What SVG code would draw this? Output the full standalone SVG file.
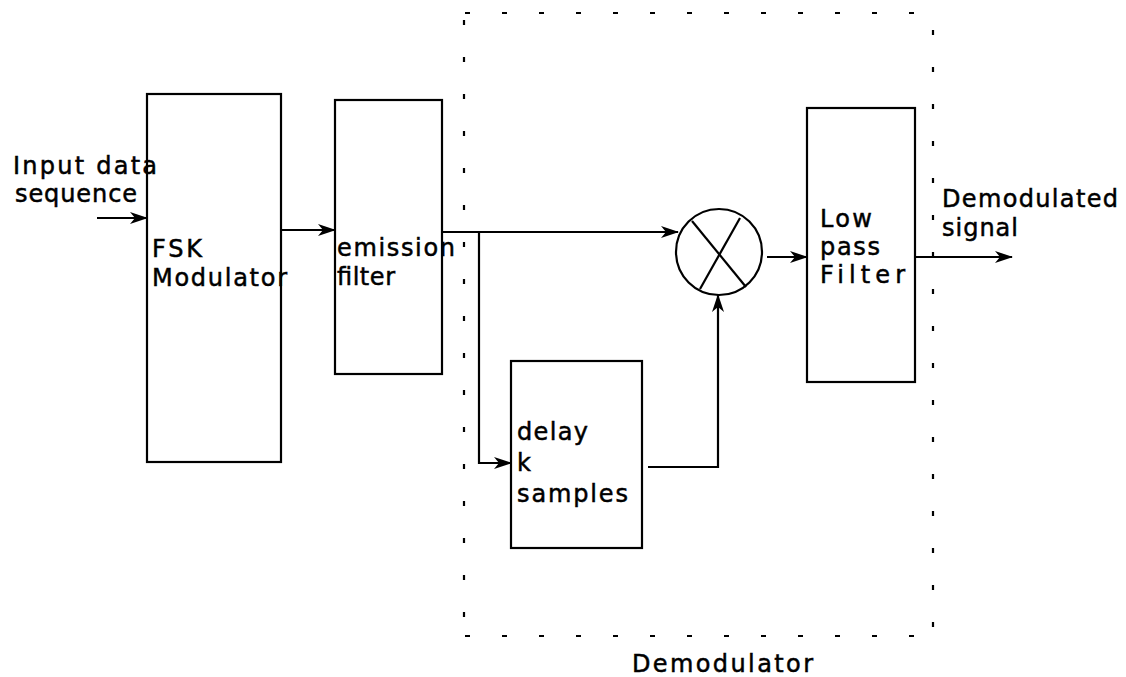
<svg xmlns="http://www.w3.org/2000/svg" width="1126" height="677" viewBox="0 0 1126 677">
<style>
.box{fill:none;stroke:#000;stroke-width:2.2}
.ln{fill:none;stroke:#000;stroke-width:2.2}
.dash{fill:none;stroke:#000;stroke-width:2.2;stroke-dasharray:5 32}
text{font-family:"DejaVu Sans","Liberation Sans",sans-serif;font-size:24px;fill:#000;stroke:#000;stroke-width:0.5}
</style>
<defs>
<marker id="ah" markerWidth="18" markerHeight="12" refX="17" refY="6" orient="auto" markerUnits="userSpaceOnUse">
<path d="M0,0 L18,6 L0,12 L5,6 Z" fill="#000"/>
</marker>
</defs>
<rect width="1126" height="677" fill="#fff"/>
<g id="demodulator-frame">
<line class="dash" x1="465" y1="13" x2="933" y2="13"/>
<line class="dash" x1="465" y1="636" x2="933" y2="636"/>
<line class="dash" x1="464" y1="20" x2="464" y2="636"/>
<line class="dash" x1="933" y1="30" x2="933" y2="636"/>
<text x="632" y="672" textLength="181" lengthAdjust="spacing">Demodulator</text>
</g>
<g id="input-label">
<text x="13" y="174" textLength="144" lengthAdjust="spacing">Input data</text>
<text x="15" y="202" textLength="122" lengthAdjust="spacing">sequence</text>
</g>
<g id="fsk">
<rect class="box" x="147" y="94" width="134" height="368"/>
<text x="152" y="257" textLength="50" lengthAdjust="spacing">FSK</text>
<text x="152" y="286" textLength="135" lengthAdjust="spacing">Modulator</text>
</g>
<g id="emission">
<rect class="box" x="335" y="100" width="107" height="274"/>
<text x="337" y="256" textLength="118" lengthAdjust="spacing">emission</text>
<text x="337" y="285" textLength="58" lengthAdjust="spacing">filter</text>
</g>
<g id="mixer">
<circle class="ln" cx="719" cy="252" r="43"/>
<line class="ln" x1="692" y1="221" x2="746" y2="287"/>
<line class="ln" x1="740" y1="218" x2="700" y2="289"/>
</g>
<g id="delay">
<rect class="box" x="511" y="361" width="131" height="187"/>
<text x="517" y="440" textLength="71" lengthAdjust="spacing">delay</text>
<text x="517" y="471" textLength="15" lengthAdjust="spacing">k</text>
<text x="517" y="502" textLength="111" lengthAdjust="spacing">samples</text>
</g>
<g id="lpf">
<rect class="box" x="807" y="108" width="108" height="274"/>
<text x="820" y="227" textLength="52" lengthAdjust="spacing">Low</text>
<text x="820" y="255" textLength="60" lengthAdjust="spacing">pass</text>
<text x="820" y="283" textLength="85" lengthAdjust="spacing">Filter</text>
</g>
<g id="output-label">
<text x="942" y="207" textLength="176" lengthAdjust="spacing">Demodulated</text>
<text x="942" y="236" textLength="76" lengthAdjust="spacing">signal</text>
</g>
<g id="connectors">
<line class="ln" x1="97" y1="218" x2="147" y2="218" marker-end="url(#ah)"/>
<line class="ln" x1="281" y1="230" x2="335" y2="230" marker-end="url(#ah)"/>
<line class="ln" x1="442" y1="232" x2="678" y2="232" marker-end="url(#ah)"/>
<polyline class="ln" points="479,232 479,463 511,463" marker-end="url(#ah)"/>
<polyline class="ln" points="648,467 718,467 718,295" marker-end="url(#ah)"/>
<line class="ln" x1="767" y1="257" x2="807" y2="257" marker-end="url(#ah)"/>
<line class="ln" x1="915" y1="257" x2="1012" y2="257" marker-end="url(#ah)"/>
</g>
</svg>
